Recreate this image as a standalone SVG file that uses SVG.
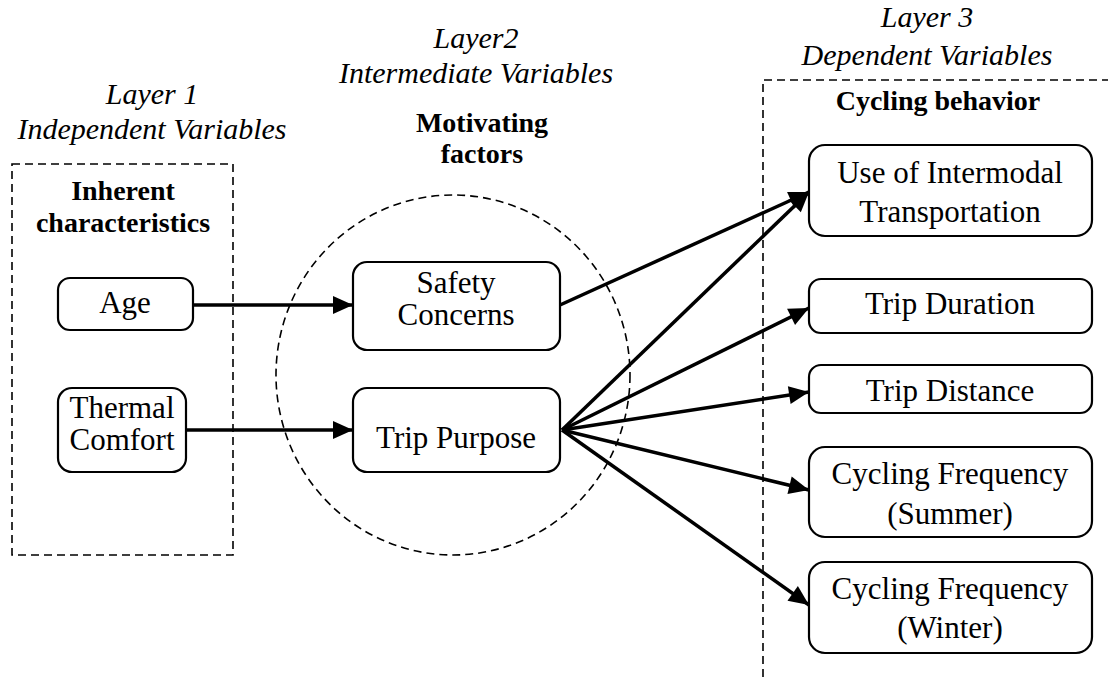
<svg xmlns="http://www.w3.org/2000/svg" width="1108" height="681" viewBox="0 0 1108 681">
<style>
text{font-family:"Liberation Serif","Times New Roman",serif;fill:#000;text-anchor:middle}
.t{font-size:31px}
.i{font-size:30px;font-style:italic}
.b{font-size:28px;font-weight:bold}
.node{fill:#fff;stroke:#000;stroke-width:2.2}
.dash{fill:none;stroke:#000;stroke-width:1.6;stroke-dasharray:8 5}
.conn{fill:none;stroke:#000;stroke-width:3.5}
</style>
<defs>
<marker id="ah" markerUnits="userSpaceOnUse" markerWidth="24" markerHeight="24" viewBox="0 0 24 24" refX="21" refY="12" orient="auto">
<path d="M1,3 L21,12 L1,21 Z" fill="#000"/>
</marker>
</defs>
<rect fill="#fff" x="0" y="0" width="1108" height="681"/>

<g id="layer-labels">
<text class="i" x="152" y="104">Layer 1</text>
<text class="i" x="152" y="139">Independent Variables</text>
<text class="i" x="476" y="48">Layer2</text>
<text class="i" x="476" y="83">Intermediate Variables</text>
<text class="i" x="927" y="27">Layer 3</text>
<text class="i" x="927" y="65">Dependent Variables</text>
</g>

<g id="group-inherent">
<rect class="dash" x="12" y="164" width="221" height="391"/>
<text class="b" x="123" y="200">Inherent</text>
<text class="b" x="123" y="232">characteristics</text>
</g>
<g id="group-motivating">
<ellipse class="dash" cx="453" cy="375" rx="177" ry="180"/>
<text class="b" x="482" y="132">Motivating</text>
<text class="b" x="482" y="163">factors</text>
</g>
<g id="group-cycling">
<path class="dash" d="M1110,80 H763 V681"/>
<text class="b" x="938" y="110">Cycling behavior</text>
</g>

<g id="connectors">
<path class="conn" d="M193,305 H353" marker-end="url(#ah)"/>
<path class="conn" d="M186,430 H353" marker-end="url(#ah)"/>
<path class="conn" d="M560,305 L809,192" marker-end="url(#ah)"/>
<path class="conn" d="M562,430 L809,192" marker-end="url(#ah)"/>
<path class="conn" d="M562,430 L809,308" marker-end="url(#ah)"/>
<path class="conn" d="M562,430 L809,392" marker-end="url(#ah)"/>
<path class="conn" d="M562,430 L809,490" marker-end="url(#ah)"/>
<path class="conn" d="M562,430 L809,605" marker-end="url(#ah)"/>
</g>

<g id="age">
<rect class="node" x="58" y="278" width="135" height="52" rx="12"/>
<text class="t" x="125" y="313">Age</text>
</g>
<g id="thermal-comfort">
<rect class="node" x="58" y="388" width="128" height="84" rx="14"/>
<text class="t" x="122" y="418">Thermal</text>
<text class="t" x="122" y="450">Comfort</text>
</g>
<g id="safety-concerns">
<rect class="node" x="353" y="262" width="207" height="88" rx="14"/>
<text class="t" x="456" y="293">Safety</text>
<text class="t" x="456" y="325">Concerns</text>
</g>
<g id="trip-purpose">
<rect class="node" x="353" y="388" width="207" height="84" rx="14"/>
<text class="t" x="456" y="448">Trip Purpose</text>
</g>
<g id="intermodal">
<rect class="node" x="809" y="145" width="283" height="91" rx="16"/>
<text class="t" x="950" y="183">Use of Intermodal</text>
<text class="t" x="950" y="222">Transportation</text>
</g>
<g id="trip-duration">
<rect class="node" x="809" y="279" width="283" height="54" rx="12"/>
<text class="t" x="950" y="314">Trip Duration</text>
</g>
<g id="trip-distance">
<rect class="node" x="809" y="365" width="283" height="48" rx="12"/>
<text class="t" x="950" y="401">Trip Distance</text>
</g>
<g id="freq-summer">
<rect class="node" x="809" y="447" width="283" height="90" rx="16"/>
<text class="t" x="950" y="484">Cycling Frequency</text>
<text class="t" x="950" y="524">(Summer)</text>
</g>
<g id="freq-winter">
<rect class="node" x="809" y="562" width="283" height="91" rx="16"/>
<text class="t" x="950" y="599">Cycling Frequency</text>
<text class="t" x="950" y="638">(Winter)</text>
</g>
</svg>
